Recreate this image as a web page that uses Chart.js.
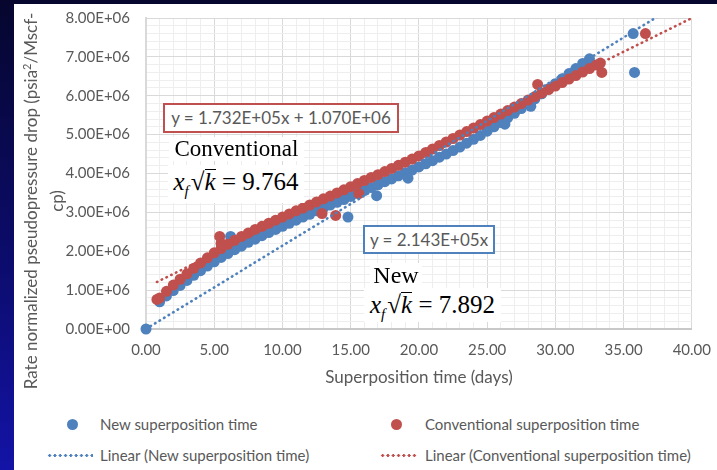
<!DOCTYPE html>
<html><head><meta charset="utf-8">
<script src="https://cdn.jsdelivr.net/npm/chart.js@4.4.1/dist/chart.umd.min.js"></script>
<style>
html,body{margin:0;padding:0;width:717px;height:470px;overflow:hidden;}
body{background:linear-gradient(to bottom,#06062e 0%,#0b0b66 50%,#1313a6 100%);position:relative;font-family:Lato,"Liberation Sans",sans-serif;color:#595959;}
#panel{position:absolute;left:14px;top:4px;width:703px;height:466px;background:#fff;overflow:hidden;}
#c{position:absolute;left:0;top:-11px;}
.eqbox{position:absolute;box-sizing:border-box;border:2px solid;background:#fff;font-size:17px;text-align:center;white-space:nowrap;color:#595959;}
.wb{position:absolute;background:#fff;font-family:"Liberation Serif","Times New Roman",serif;color:#000;white-space:nowrap;}
.fx{font-size:25px;}
.fx sub{font-size:15px;vertical-align:-6px;}
.ov{border-top:1.4px solid #000;padding-top:0;display:inline-block;line-height:24px;}
#ytitle{position:absolute;width:440px;height:52px;text-align:center;font-size:17px;line-height:26px;transform:rotate(-90deg);white-space:nowrap;}
#ytitle sup{font-size:11px;vertical-align:6px;line-height:0;}
.lg{position:absolute;font-size:15px;white-space:nowrap;line-height:18px;}
.dot{position:absolute;width:11px;height:11px;border-radius:50%;}
.dl{position:absolute;height:3px;}
</style>
</head><body>
<div id="panel"><canvas id="c" width="709" height="396"></canvas></div>
<div id="ytitle">Rate normalized pseudopressure drop (psia<sup>2</sup>/Mscf-<br>cp)</div>
<div class="eqbox" id="eqConv" style="left:163px;top:103px;width:236px;height:30px;line-height:26px;border-color:#C0504D;"></div>
<div class="eqbox" id="eqNew" style="left:363px;top:225px;width:132px;height:29px;line-height:25px;border-color:#4F81BD;"></div>
<div class="wb" style="left:169px;top:137px;width:135px;height:24px;font-size:23px;line-height:24px;text-align:center;">Conventional</div>
<div class="wb fx" style="left:168px;top:165px;width:136px;height:38px;line-height:34px;text-align:center;"><i>x</i><sub><i>f</i></sub>&#8202;√<span class="ov"><i>k</i></span> = 9.764</div>
<div class="wb" style="left:370px;top:263px;width:52px;height:25px;font-size:24px;line-height:25px;text-align:center;">New</div>
<div class="wb fx" style="left:364px;top:288px;width:137px;height:34px;line-height:34px;text-align:center;"><i>x</i><sub><i>f</i></sub>&#8202;√<span class="ov"><i>k</i></span> = 7.892</div>
<div id="legend"></div>
<script>
// ---- data ----
const newX = [0.0,1.0,1.5,2.0,2.5,3.0,3.5,4.0,4.5,5.0,5.5,6.0,6.5,7.0,7.5,8.0,8.5,9.0,9.5,10.0,10.5,11.0,11.5,12.0,12.5,13.0,13.5,14.0,14.5,15.0,15.5,16.0,16.5,17.0,17.5,18.0,18.5,19.0,19.5,20.0,20.5,21.0,21.5,22.0,22.5,23.0,23.5,24.0,24.5,25.0,25.5,26.0,26.5,27.0,27.5,28.0,28.5,29.0,29.5,30.0,30.5,31.0,31.5,32.0,32.5,
  6.2,12.9,14.8,16.9,19.2,26.3,28.2,35.7,35.8];
const newY = [0.0,0.70e6,0.85e6,0.99e6,1.12e6,1.25e6,1.38e6,1.50e6,1.62e6,1.73e6,1.84e6,1.94e6,2.04e6,2.13e6,2.23e6,2.31e6,2.40e6,2.48e6,2.56e6,2.64e6,2.72e6,2.80e6,2.88e6,2.95e6,3.04e6,3.11e6,3.19e6,3.26e6,3.33e6,3.41e6,3.49e6,3.56e6,3.64e6,3.71e6,3.79e6,3.86e6,3.94e6,4.02e6,4.09e6,4.17e6,4.25e6,4.33e6,4.42e6,4.50e6,4.59e6,4.68e6,4.78e6,4.88e6,4.98e6,5.09e6,5.20e6,5.31e6,5.43e6,5.55e6,5.67e6,5.79e6,5.92e6,6.05e6,6.18e6,6.31e6,6.44e6,6.57e6,6.70e6,6.83e6,6.95e6,
  2.38e6,3.22e6,2.88e6,3.43e6,3.88e6,5.27e6,5.73e6,7.60e6,6.60e6];
const convX = [0.8,1.0,1.5,2.0,2.5,3.0,3.5,4.0,4.5,5.0,5.5,6.0,6.5,7.0,7.5,8.0,8.5,9.0,9.5,10.0,10.5,11.0,11.5,12.0,12.5,13.0,13.5,14.0,14.5,15.0,15.5,16.0,16.5,17.0,17.5,18.0,18.5,19.0,19.5,20.0,20.5,21.0,21.5,22.0,22.5,23.0,23.5,24.0,24.5,25.0,25.5,26.0,26.5,27.0,27.5,28.0,28.5,29.0,29.5,30.0,30.5,31.0,31.5,32.0,32.5,33.0,33.3,
  5.4,5.5,12.9,13.9,15.6,28.7,33.4,36.6];
const convY = [0.76e6,0.80e6,0.97e6,1.13e6,1.28e6,1.42e6,1.56e6,1.70e6,1.83e6,1.96e6,2.07e6,2.18e6,2.28e6,2.38e6,2.47e6,2.56e6,2.64e6,2.72e6,2.80e6,2.88e6,2.96e6,3.04e6,3.11e6,3.19e6,3.27e6,3.35e6,3.42e6,3.50e6,3.58e6,3.66e6,3.74e6,3.82e6,3.90e6,3.97e6,4.05e6,4.13e6,4.21e6,4.29e6,4.37e6,4.45e6,4.54e6,4.63e6,4.72e6,4.81e6,4.90e6,4.99e6,5.08e6,5.17e6,5.26e6,5.35e6,5.44e6,5.53e6,5.62e6,5.71e6,5.80e6,5.89e6,5.98e6,6.07e6,6.16e6,6.25e6,6.34e6,6.43e6,6.52e6,6.61e6,6.70e6,6.79e6,6.84e6,
  2.38e6,2.20e6,2.97e6,2.92e6,3.48e6,6.29e6,6.60e6,7.60e6];
const xTickLabels = ['0.00','5.00','10.00','15.00','20.00','25.00','30.00','35.00','40.00'];
const yTickLabels = ['0.00E+00','1.00E+06','2.00E+06','3.00E+06','4.00E+06','5.00E+06','6.00E+06','7.00E+06','8.00E+06'];
const newSlope = 2.143e5;
const convSlope = 1.732e5, convIntercept = 1.070e6;
const newTrendX = [0, 40];
const convTrendX = [0.8, 40];
const seriesNames = ['New superposition time','Conventional superposition time'];
const trendNames = ['Linear (New superposition time)','Linear (Conventional superposition time)'];
const eqTexts = ['y = 2.143E+05x','y = 1.732E+05x + 1.070E+06'];
const xTitle = 'Superposition time (days)';

const BLUE = '#4F81BD', RED = '#C0504D', TXT = '#595959';
const FONT = 'Lato, "Liberation Sans", sans-serif';

const pts = (xs, ys) => xs.map((x, i) => ({x, y: ys[i]}));
const newTrend = newTrendX.map(x => ({x, y: newSlope * x}));
const convTrend = convTrendX.map(x => ({x, y: convSlope * x + convIntercept}));

const isMajor = (v, step) => Math.abs(v / step - Math.round(v / step)) < 1e-6;

const chart = new Chart(document.getElementById('c'), {
  type: 'scatter',
  data: {
    datasets: [
      {label: seriesNames[0], data: pts(newX, newY), backgroundColor: BLUE, borderColor: BLUE, pointRadius: 5.5, pointBorderWidth: 0, order: 3, clip: false},
      {label: seriesNames[1], data: pts(convX, convY), backgroundColor: RED, borderColor: RED, pointRadius: 5.5, pointBorderWidth: 0, order: 2, clip: false},
      {label: trendNames[0], data: newTrend, showLine: true, pointRadius: 0, borderColor: BLUE, borderWidth: 2.6, borderDash: [0.5, 4.8], borderCapStyle: 'round', order: 0},
      {label: trendNames[1], data: convTrend, showLine: true, pointRadius: 0, borderColor: RED, borderWidth: 2.6, borderDash: [0.5, 4.8], borderCapStyle: 'round', order: 1}
    ]
  },
  options: {
    responsive: false, animation: false, devicePixelRatio: 1,
    layout: {padding: {left: 0, right: 17, top: 1, bottom: 0}},
    plugins: {legend: {display: false}, tooltip: {enabled: false}},
    scales: {
      x: {
        type: 'linear', min: 0, max: 40,
        ticks: {stepSize: 1, autoSkip: false, maxRotation: 0, padding: 12, color: TXT, font: {family: FONT, size: 15},
          callback: v => isMajor(v, 5) ? xTickLabels[Math.round(v / 5)] : ''},
        grid: {drawTicks: false, color: c => isMajor(c.tick.value, 5) ? '#D9D9D9' : '#EEEEEE', lineWidth: 1},
        border: {color: '#C8C8C8', width: 2},
        title: {display: true, text: xTitle, color: TXT, font: {family: FONT, size: 17}, padding: {top: 0, bottom: 1}},
        afterFit: s => { s.height = 60; }
      },
      y: {
        type: 'linear', min: 0, max: 8e6,
        ticks: {stepSize: 2e5, autoSkip: false, padding: 16, color: TXT, font: {family: FONT, size: 15},
          callback: v => isMajor(v, 1e6) ? yTickLabels[Math.round(v / 1e6)] : ''},
        grid: {drawTicks: false, color: c => isMajor(c.tick.value, 1e6) ? '#D9D9D9' : '#EEEEEE', lineWidth: 1},
        border: {color: '#D9D9D9', width: 2},
        afterFit: s => { s.width = 132; }
      }
    }
  }
});

// equation labels
document.getElementById('eqNew').textContent = eqTexts[0];
document.getElementById('eqConv').textContent = eqTexts[1];

// y title position
const yt = document.getElementById('ytitle');
yt.style.left = (44 - 220) + 'px';
yt.style.top = (201 - 26) + 'px';

// legend built from datasets
const lg = document.getElementById('legend');
const ds = chart.data.datasets;
const legendItems = [
  {ds: ds[0], kind: 'dot', sx: 72, tx: 100, y: 424},
  {ds: ds[1], kind: 'dot', sx: 396, tx: 425, y: 424},
  {ds: ds[2], kind: 'line', sx: 47, ex: 93, tx: 100, y: 455},
  {ds: ds[3], kind: 'line', sx: 380, ex: 417, tx: 425, y: 455}
];
legendItems.forEach(it => {
  const col = it.ds.borderColor;
  if (it.kind === 'dot') {
    const d = document.createElement('div');
    d.className = 'dot';
    d.style.background = col;
    d.style.left = (it.sx - 5.5) + 'px';
    d.style.top = (it.y - 5.5) + 'px';
    lg.appendChild(d);
  } else {
    const l = document.createElement('div');
    l.className = 'dl';
    l.style.left = it.sx + 'px';
    l.style.width = (it.ex - it.sx) + 'px';
    l.style.top = (it.y - 1.5) + 'px';
    l.style.background = `radial-gradient(circle, ${col} 1.3px, transparent 1.6px) 0 0 / 5.3px 3px repeat-x`;
    lg.appendChild(l);
  }
  const t = document.createElement('div');
  t.className = 'lg';
  t.textContent = it.ds.label;
  t.style.left = it.tx + 'px';
  t.style.top = (it.y - 9) + 'px';
  lg.appendChild(t);
});
</script>
</body></html>
